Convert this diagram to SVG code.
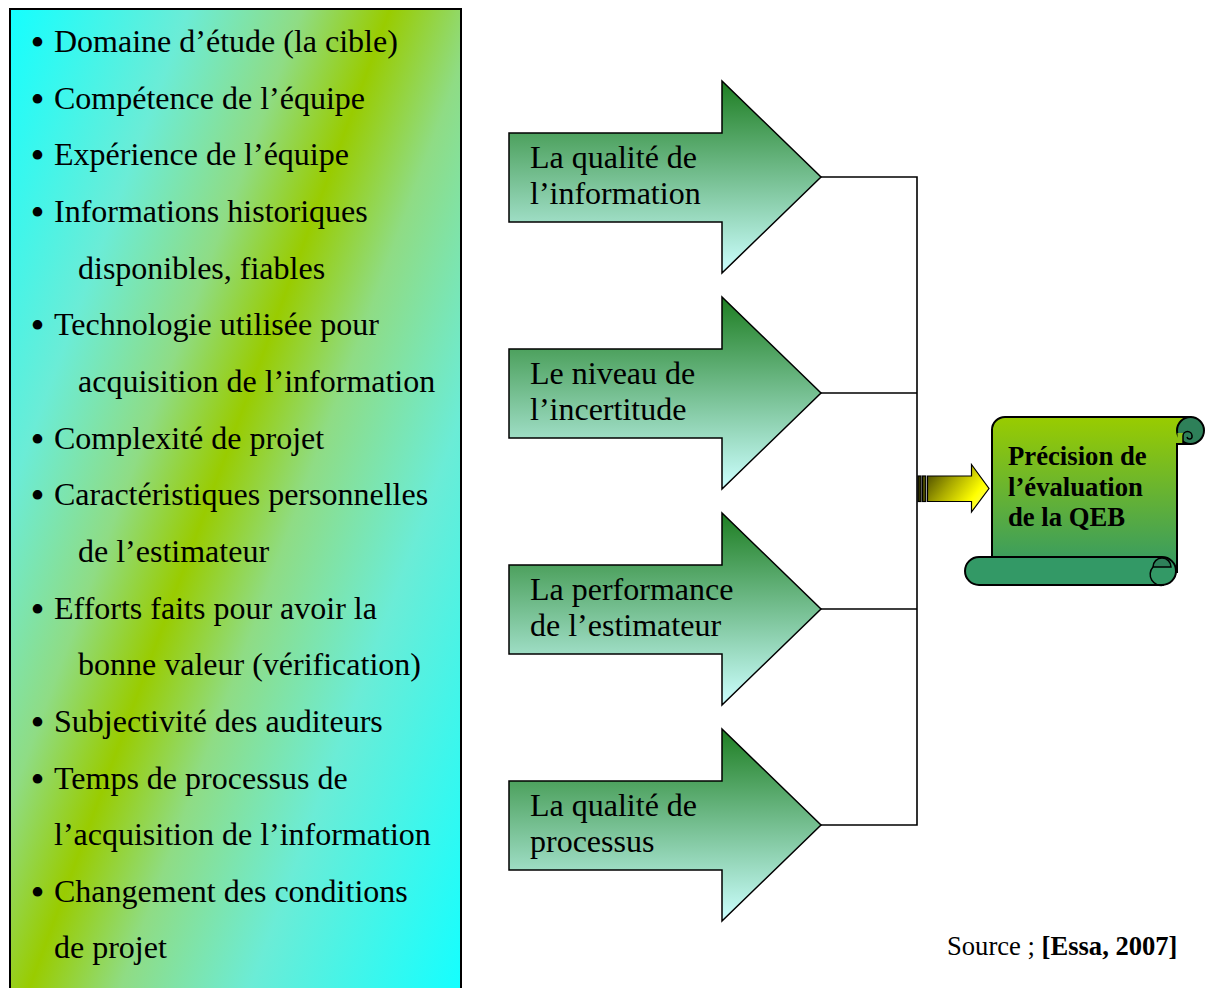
<svg xmlns="http://www.w3.org/2000/svg" width="1209" height="988" viewBox="0 0 1209 988">
<style>
text{font-family:"Liberation Serif","Times New Roman",serif;fill:#000}
.li{font-size:32px}
.bul{font-size:40px;text-anchor:middle}
.lbl{font-size:32px}
.scr{font-size:26.7px;font-weight:bold}
.src{font-size:26.6px}
.big{fill:url(#gArrow);stroke:#000;stroke-width:1.5}
.con{fill:none;stroke:#000;stroke-width:1.6}
</style>
<defs>
<linearGradient id="gBox" gradientUnits="userSpaceOnUse" x1="11.7" y1="4.3" x2="727" y2="268">
<stop offset="0" stop-color="#14ffff"/>
<stop offset="0.22" stop-color="#6becd6"/>
<stop offset="0.36" stop-color="#8fdc84"/>
<stop offset="0.468" stop-color="#99cc00"/>
<stop offset="0.58" stop-color="#8fdc84"/>
<stop offset="0.74" stop-color="#6becd6"/>
<stop offset="1" stop-color="#14ffff"/>
</linearGradient>
<linearGradient id="gArrow" x1="0" y1="0" x2="0" y2="1">
<stop offset="0" stop-color="#1e7e22"/>
<stop offset="1" stop-color="#ccffff"/>
</linearGradient>
<linearGradient id="gYel" x1="0" y1="0" x2="1" y2="0.6">
<stop offset="0" stop-color="#3a3a00"/>
<stop offset="0.45" stop-color="#a8a800"/>
<stop offset="0.85" stop-color="#ffff00"/>
<stop offset="1" stop-color="#ffff40"/>
</linearGradient>
<linearGradient id="gPanel" x1="0" y1="0" x2="0" y2="1">
<stop offset="0" stop-color="#99cc00"/>
<stop offset="1" stop-color="#339966"/>
</linearGradient>
</defs>

<g id="factors">
<rect x="10" y="9" width="451" height="1000" fill="url(#gBox)" stroke="#000" stroke-width="2"/>
<text class="bul" x="37.5" y="56">•</text><text class="li" x="54" y="52">Domaine d’étude (la cible)</text>
<text class="bul" x="37.5" y="112.7">•</text><text class="li" x="54" y="108.7">Compétence de l’équipe</text>
<text class="bul" x="37.5" y="169.3">•</text><text class="li" x="54" y="165.3">Expérience de l’équipe</text>
<text class="bul" x="37.5" y="226">•</text><text class="li" x="54" y="222">Informations historiques</text>
<text class="li" x="78" y="278.6">disponibles, fiables</text>
<text class="bul" x="37.5" y="339.3">•</text><text class="li" x="54" y="335.3">Technologie utilisée pour</text>
<text class="li" x="78" y="391.9">acquisition de l’information</text>
<text class="bul" x="37.5" y="452.6">•</text><text class="li" x="54" y="448.6">Complexité de projet</text>
<text class="bul" x="37.5" y="509.2">•</text><text class="li" x="54" y="505.2">Caractéristiques personnelles</text>
<text class="li" x="78" y="561.9">de l’estimateur</text>
<text class="bul" x="37.5" y="622.5">•</text><text class="li" x="54" y="618.5">Efforts faits pour avoir la</text>
<text class="li" x="78" y="675.2">bonne valeur (vérification)</text>
<text class="bul" x="37.5" y="735.8">•</text><text class="li" x="54" y="731.8">Subjectivité des auditeurs</text>
<text class="bul" x="37.5" y="792.5">•</text><text class="li" x="54" y="788.5">Temps de processus de</text>
<text class="li" x="54" y="845.1">l’acquisition de l’information</text>
<text class="bul" x="37.5" y="905.8">•</text><text class="li" x="54" y="901.8">Changement des conditions</text>
<text class="li" x="54" y="958.4">de projet</text>
</g>

<g id="connectors">
<path class="con" d="M821,177 H917 V825 H821 M821,393 H917 M821,609 H917"/>
</g>

<g id="arrow1">
<path class="big" d="M509,133 H722 V81 L821,177 L722,273 V222 H509 Z"/>
<text class="lbl" x="530" y="167.5">La qualité de</text>
<text class="lbl" x="530" y="204">l’information</text>
</g>
<g id="arrow2">
<path class="big" d="M509,349 H722 V297 L821,393 L722,489 V438 H509 Z"/>
<text class="lbl" x="530" y="383.5">Le niveau de</text>
<text class="lbl" x="530" y="420">l’incertitude</text>
</g>
<g id="arrow3">
<path class="big" d="M509,565 H722 V513 L821,609 L722,705 V654 H509 Z"/>
<text class="lbl" x="530" y="599.5">La performance</text>
<text class="lbl" x="530" y="636">de l’estimateur</text>
</g>
<g id="arrow4">
<path class="big" d="M509,781 H722 V729 L821,825 L722,921 V870 H509 Z"/>
<text class="lbl" x="530" y="815.5">La qualité de</text>
<text class="lbl" x="530" y="852">processus</text>
</g>

<g id="yellow-arrow" stroke="#000" stroke-width="1.2">
<rect x="918" y="476" width="3" height="25.5" fill="#333300"/>
<rect x="922.5" y="476" width="3.2" height="25.5" fill="#4a4a00"/>
<path d="M927.5,476 H971.5 V464.5 L989,488.5 L971.5,512 V501.5 H927.5 Z" fill="url(#gYel)"/>
</g>

<g id="result-scroll" stroke="#000" stroke-width="2">
<path d="M992,572 V430 A13,13 0 0 1 1005,417 H1190.5 V444 H1177 V572 Z" fill="url(#gPanel)"/>
<circle cx="1190.5" cy="430.5" r="13.5" fill="#2e8059"/>
<path d="M1177.5,433 H1183 V443.5 H1177.5 Z" fill="#8cc21a" stroke="none"/>
<path d="M1177,444 H1190.5" fill="none" stroke-width="2"/>
<path d="M1183,444 V436 A4.5,4.5 0 0 1 1192,436 A2.5,2.5 0 0 1 1187,437" fill="none" stroke-width="1.5"/>
<path d="M979,557 H1162 A14,14 0 0 1 1162,585 H979 A14,14 0 0 1 979,557 Z" fill="#339966"/>
<path d="M1153,567 A9,9 0 0 1 1171,567 Z" fill="#2e8059" stroke-width="1.5"/>
<path d="M1153,567 A11,11 0 0 0 1164,585" fill="none" stroke-width="1.5"/>
<text class="scr" x="1008" y="465" stroke="none">Précision de</text>
<text class="scr" x="1008" y="495.5" stroke="none">l’évaluation</text>
<text class="scr" x="1008" y="526" stroke="none">de la QEB</text>
</g>

<g id="source">
<text class="src" x="947" y="955">Source ; <tspan font-weight="bold">[Essa, 2007]</tspan></text>
</g>
</svg>
